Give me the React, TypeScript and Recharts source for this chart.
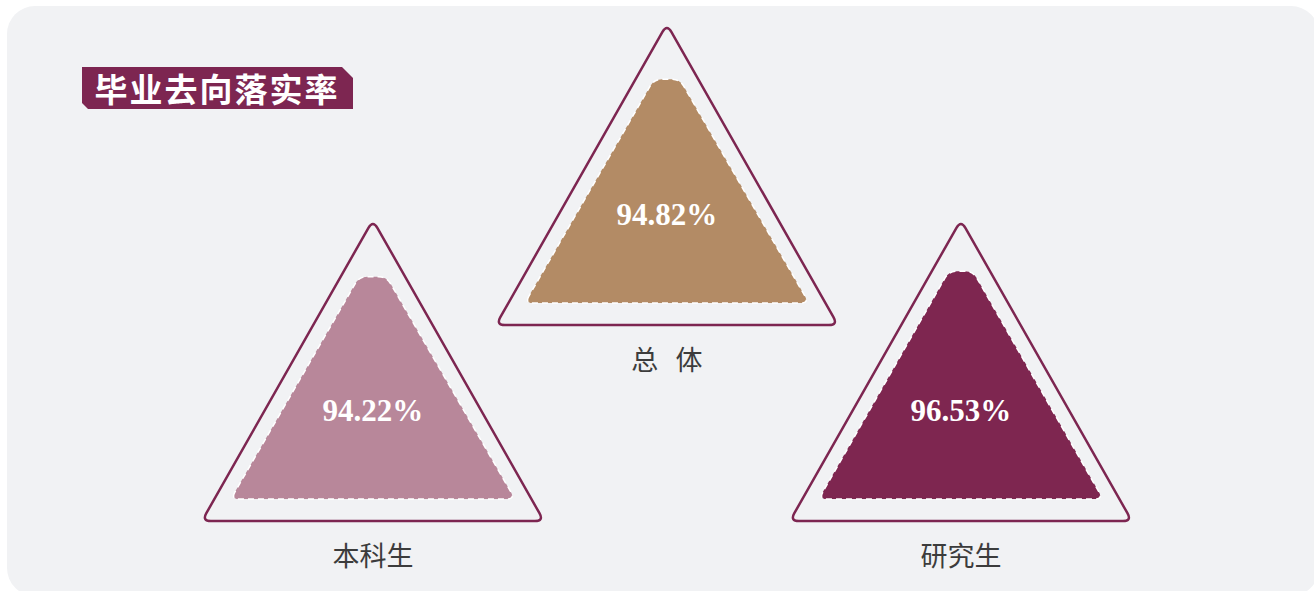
import React from 'react';
import { BarChart, Bar, XAxis, YAxis } from 'recharts';

const categories = ['本科生', '总 体', '研究生'];
const rates = [94.22, 94.82, 96.53];
const valueLabels = ['94.22%', '94.82%', '96.53%'];
const title = '毕业去向落实率';

const fills = ['#b8879a', '#b38b65', '#7e2650'];
const raise = [0, 196, 0];

const data = categories.map((name, i) => ({ name, rate: rates[i], label: valueLabels[i] }));

type P = [number, number];
function roundedPath(pts: P[], r: number): string {
  const n = pts.length;
  let d = '';
  for (let i = 0; i < n; i++) {
    const p0 = pts[(i - 1 + n) % n];
    const p1 = pts[i];
    const p2 = pts[(i + 1) % n];
    const l1 = Math.hypot(p0[0] - p1[0], p0[1] - p1[1]);
    const l2 = Math.hypot(p2[0] - p1[0], p2[1] - p1[1]);
    const rr = Math.min(r, l1 / 2, l2 / 2);
    const a: P = [p1[0] + ((p0[0] - p1[0]) * rr) / l1, p1[1] + ((p0[1] - p1[1]) * rr) / l1];
    const b: P = [p1[0] + ((p2[0] - p1[0]) * rr) / l2, p1[1] + ((p2[1] - p1[1]) * rr) / l2];
    d += (i === 0 ? 'M' : 'L') + a[0] + ',' + a[1] + ' Q' + p1[0] + ',' + p1[1] + ' ' + b[0] + ',' + b[1] + ' ';
  }
  return d + 'Z';
}

const TriShape = (props: any) => {
  const { x, y, width, height, index, payload } = props;
  const cx = x + width / 2;
  const b = y + height - raise[index];
  const h = height;
  const half = 142;
  const hw = Math.max(half - h * Math.tan(Math.PI / 6), 12);
  const inner: P[] = [
    [cx - half, b],
    [cx + half, b],
    [cx + hw, b - h],
    [cx - hw, b - h],
  ];
  const outer: P[] = [
    [cx - 171, b + 22],
    [cx + 171, b + 22],
    [cx, b - 279],
  ];
  return (
    <g>
      <path d={roundedPath(outer, 9)} fill="none" stroke="#7d2651" strokeWidth={2.5} />
      <path d={roundedPath(inner, 8)} fill={fills[index]} stroke="#ffffff" strokeWidth={1.5} strokeDasharray="6 4" />
      <text
        x={cx}
        y={b - 89}
        textAnchor="middle"
        dominantBaseline="central"
        fill="#ffffff"
        fontFamily="'Liberation Serif', 'Times New Roman', serif"
        fontWeight="bold"
        fontSize={31}
      >
        {payload.label}
      </text>
      <text
        x={cx}
        y={b + 55}
        textAnchor="middle"
        dominantBaseline="central"
        fill="#3c3c3c"
        fontFamily="'Noto Sans CJK SC', sans-serif"
        fontSize={27}
        wordSpacing={11}
      >
        {payload.name}
      </text>
    </g>
  );
};

export default function App() {
  return (
    <div style={{ position: 'absolute', left: 0, top: 0, width: 1314, height: 591, overflow: 'hidden' }}>
      <div
        style={{
          position: 'absolute',
          left: 7,
          top: 6,
          width: 1312,
          height: 590,
          borderRadius: 28,
          background: '#f1f2f4',
        }}
      />
      <svg width={1314} height={591} style={{ position: 'absolute', left: 0, top: 0 }}>
        <polygon points="82,67 342,67 353,78 353,109 88,109 82,103" fill="#7d2651" />
        <text
          x={217}
          y={88}
          textAnchor="middle"
          dominantBaseline="central"
          fill="#ffffff"
          fontFamily="'Noto Sans CJK SC', sans-serif"
          fontWeight="bold"
          fontSize={33}
          letterSpacing={2}
        >
          {title}
        </text>
      </svg>
      <div style={{ position: 'absolute', left: 0, top: 0 }}>
        <BarChart width={1314} height={591} data={data} margin={{ top: 263, bottom: 92, left: 226, right: 206 }}>
          <XAxis dataKey="name" hide />
          <YAxis domain={[0, 100]} hide />
          <Bar dataKey="rate" isAnimationActive={false} shape={TriShape} />
        </BarChart>
      </div>
    </div>
  );
}
